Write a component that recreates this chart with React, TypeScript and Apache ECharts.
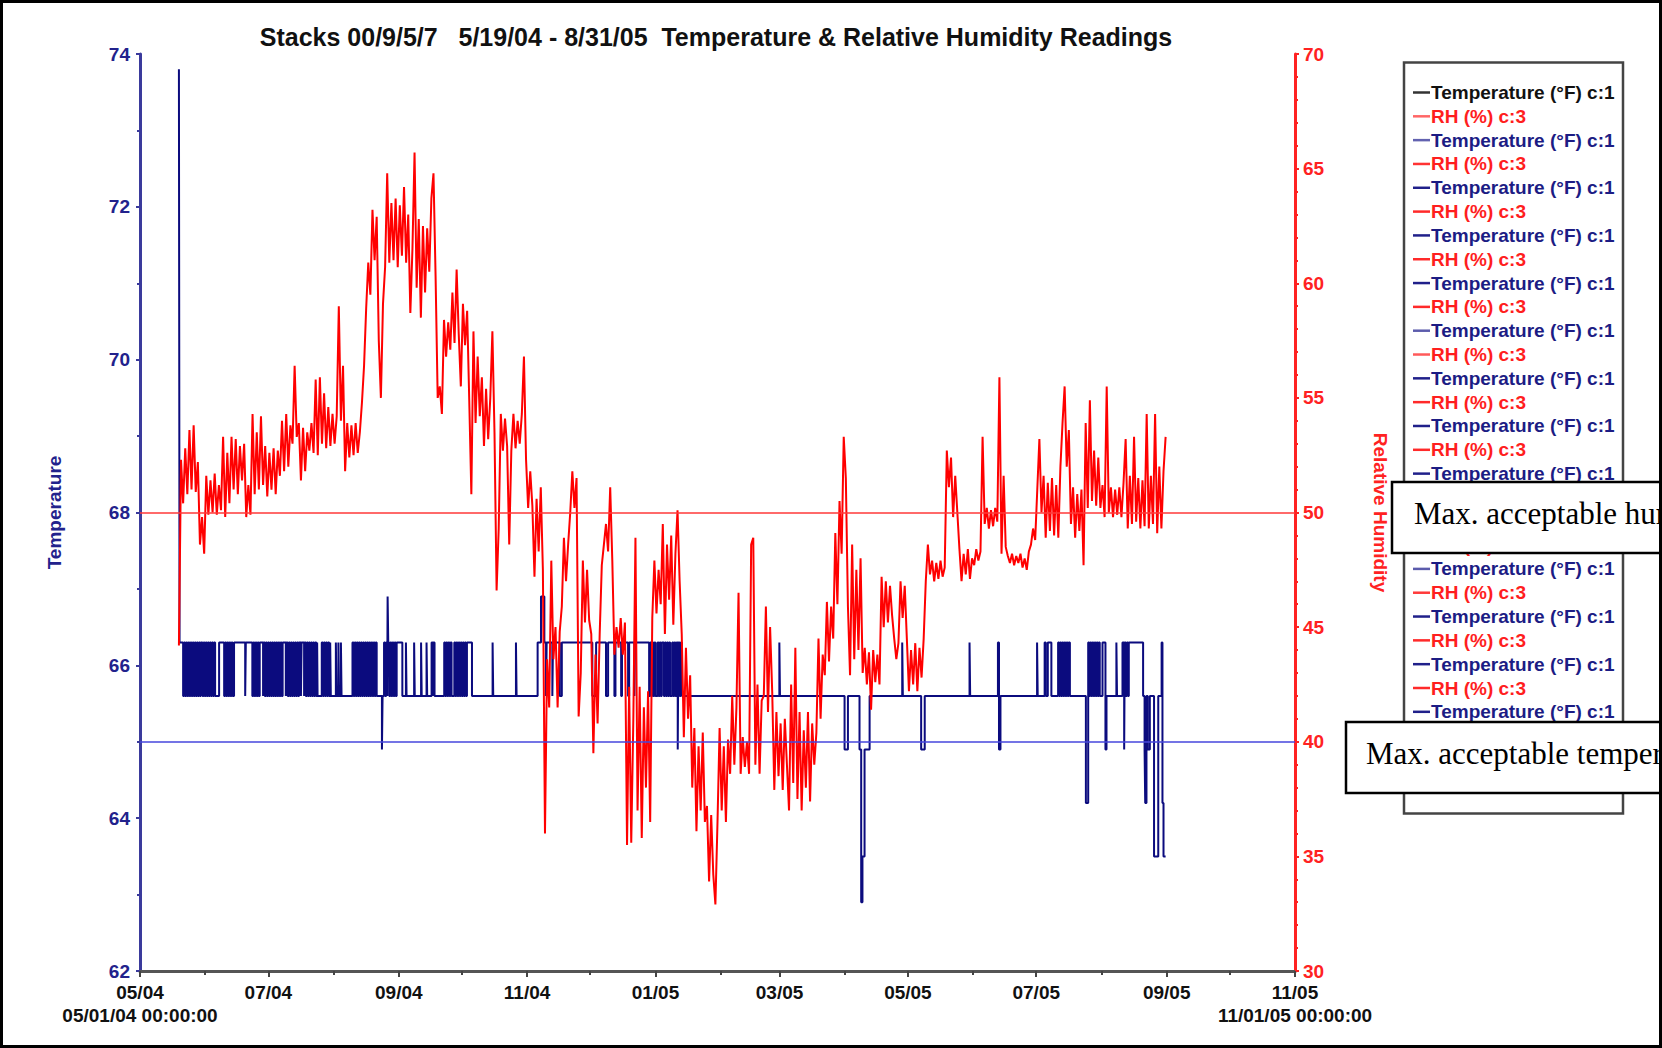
import { useEffect, useRef } from "react";
import * as echarts from "echarts";

// ---------- texts ----------
const chartTitle = "Stacks 00/9/5/7   5/19/04 - 8/31/05  Temperature & Relative Humidity Readings";
const tempAxisName = "Temperature";
const rhAxisName = "Relative Humidity";
const humidityNote = "Max. acceptable humidity";
const temperatureNote = "Max. acceptable temperature";

// ---------- x axis (days since 05/01/04 00:00:00) ----------
const xMinDay = 0;
const xMaxDay = 549;
const labelMonthDays = [0, 61, 123, 184, 245, 304, 365, 426, 488, 549];
const monthLabels = ["05/04", "07/04", "09/04", "11/04", "01/05", "03/05", "05/05", "07/05", "09/05", "11/05"];
const oddMonthDays = [31, 92, 153, 214, 276, 335, 396, 457, 518];
const axisStartStamp = "05/01/04 00:00:00";
const axisEndStamp = "11/01/05 00:00:00";

// ---------- y axes ----------
const tempMin = 62;
const tempMax = 74;
const tempStep = 2;
const rhMin = 30;
const rhMax = 70;
const rhStep = 5;

// ---------- limits ----------
const maxTemp = 65;
const maxRH = 50;

// ---------- legend entries ----------
const legendLabels = [
  "Temperature (°F) c:1", "RH (%) c:3", "Temperature (°F) c:1", "RH (%) c:3", "Temperature (°F) c:1", "RH (%) c:3",
  "Temperature (°F) c:1", "RH (%) c:3", "Temperature (°F) c:1", "RH (%) c:3", "Temperature (°F) c:1", "RH (%) c:3",
  "Temperature (°F) c:1", "RH (%) c:3", "Temperature (°F) c:1", "RH (%) c:3", "Temperature (°F) c:1", "RH (%) c:3",
  "Temperature (°F) c:1", "RH (%) c:3", "Temperature (°F) c:1", "RH (%) c:3", "Temperature (°F) c:1", "RH (%) c:3",
  "Temperature (°F) c:1", "RH (%) c:3", "Temperature (°F) c:1", "RH (%) c:3", "Temperature (°F) c:1", "RH (%) c:3",
];

// ---------- temperature readings [day, °F] (value held until next reading) ----------
const tempReadings: [number, number][] = [
  [18.5, 73.8], [18.8, 66.3],
  [20.5, 65.6], [21, 66.3], [21.5, 65.6], [22, 66.3], [22.5, 65.6], [23, 66.3], [23.5, 65.6], [24, 66.3], [24.5, 65.6],
  [25, 66.3], [25.5, 65.6], [26, 66.3], [26.5, 65.6], [27, 66.3], [27.5, 65.6], [28, 66.3], [28.5, 65.6], [28.9, 66.3],
  [29.7, 65.6], [30.2, 66.3], [30.7, 65.6], [31.2, 66.3], [31.7, 65.6], [32.2, 66.3], [32.7, 65.6], [33.2, 66.3],
  [33.7, 65.6], [34.2, 66.3], [34.7, 65.6], [35.2, 66.3], [35.7, 65.6], [37.6, 66.3],
  [40, 65.6], [40.5, 66.3], [41, 65.6], [41.5, 66.3], [42, 65.6], [42.5, 66.3], [43, 65.6], [43.5, 66.3], [44, 65.6],
  [44.7, 66.3], [50, 65.6], [50.3, 66.3],
  [53.4, 65.6], [53.9, 66.3], [54.4, 65.6], [54.9, 66.3], [55.4, 65.6], [55.9, 66.3], [56.4, 65.6], [56.9, 66.3],
  [58.5, 65.6], [58.8, 66.3],
  [59.3, 65.6], [59.8, 66.3], [60.3, 65.6], [60.8, 66.3], [61.3, 65.6], [61.8, 66.3], [62.3, 65.6], [62.8, 66.3],
  [63.3, 65.6], [63.8, 66.3], [64.3, 65.6], [64.8, 66.3], [65.3, 65.6], [65.8, 66.3], [66.3, 65.6], [66.8, 66.3],
  [67.3, 65.6], [67.8, 66.3], [69.3, 65.6], [69.6, 66.3],
  [70.2, 65.6], [70.7, 66.3], [71.2, 65.6], [71.7, 66.3], [72.2, 65.6], [72.7, 66.3], [73.2, 65.6], [73.7, 66.3],
  [74.2, 65.6], [74.7, 66.3], [75.2, 65.6], [75.6, 66.3], [76.5, 65.6], [76.8, 66.3], [78, 65.6], [78.3, 66.3],
  [78.8, 65.6], [79.3, 66.3], [79.8, 65.6], [80.3, 66.3], [80.8, 65.6], [81.3, 66.3], [81.8, 65.6], [82.3, 66.3],
  [82.8, 65.6], [83.3, 66.3], [83.8, 65.6], [84.2, 66.3], [84.4, 65.6],
  [86.4, 66.3], [86.9, 65.6], [87.4, 66.3], [87.9, 65.6], [88.4, 66.3], [88.9, 65.6], [89.4, 66.3], [89.9, 65.6],
  [90.4, 66.3], [90.7, 65.6], [93.1, 66.3], [93.4, 65.6], [94.3, 66.3], [94.6, 65.6], [95.5, 66.3], [95.8, 65.6],
  [101, 66.3], [101.5, 65.6], [102, 66.3], [102.5, 65.6], [103, 66.3], [103.5, 65.6], [104, 66.3], [104.5, 65.6],
  [105, 66.3], [105.5, 65.6], [106, 66.3], [106.5, 65.6], [107, 66.3], [107.5, 65.6], [108, 66.3], [108.5, 65.6],
  [109, 66.3], [109.5, 65.6], [110, 66.3], [110.5, 65.6], [111, 66.3], [111.5, 65.6], [112, 66.3], [112.5, 65.6],
  [115, 64.9], [115.3, 65.6],
  [116, 66.3], [116.5, 65.6], [117, 66.3], [117.5, 65.6], [117.7, 66.9], [118, 66.3], [118.5, 65.6], [119, 66.3],
  [119.5, 65.6], [120, 66.3], [120.5, 65.6], [121, 66.3], [121.5, 65.6], [122, 66.3],
  [124.7, 65.6], [126.4, 66.3], [126.7, 65.6], [130.3, 66.3], [130.6, 65.6], [133.6, 66.3], [133.9, 65.6],
  [136.2, 66.3], [136.5, 65.6], [138.6, 66.3], [139.1, 65.6], [139.4, 66.3], [140, 65.6],
  [144.6, 66.3], [145.1, 65.6], [145.6, 66.3], [146.1, 65.6], [146.6, 66.3], [147.1, 65.6], [147.6, 66.3], [148.1, 65.6],
  [149.4, 66.3], [149.9, 65.6], [150.4, 66.3], [150.9, 65.6], [151.4, 66.3], [151.9, 65.6], [152.4, 66.3],
  [152.9, 65.6], [153.4, 66.3], [153.9, 65.6], [154.4, 66.3], [154.9, 65.6], [155.4, 66.3],
  [157.8, 65.6], [167.6, 66.3], [167.9, 65.6], [178.7, 66.3], [179, 65.6],
  [189, 66.3], [190.6, 66.9], [192.2, 66.3], [193, 65.6], [193.3, 66.3], [196, 65.6], [196.3, 66.3], [199.5, 65.6],
  [200.5, 66.3], [215, 65.6], [216.8, 66.3], [221.5, 65.6], [222.5, 66.3], [225.5, 65.6], [226, 66.3],
  [228.7, 65.6], [229.1, 66.3], [232, 65.6], [232.5, 66.3], [235, 65.6], [235.3, 66.3],
  [242, 65.6], [242.5, 66.3], [243, 65.6], [243.5, 66.3], [244, 65.6], [244.5, 66.3], [245, 65.6], [246, 66.3],
  [246.5, 65.6], [247, 66.3], [247.5, 65.6], [248, 66.3], [249, 65.6], [249.5, 66.3], [250, 65.6], [250.5, 66.3],
  [251, 65.6], [251.5, 66.3], [252, 65.6], [253, 66.3], [253.5, 65.6], [254, 66.3], [254.5, 65.6], [255, 66.3],
  [255.6, 64.9], [255.9, 66.3], [256.5, 65.6], [257, 66.3], [257.6, 65.6],
  [303.9, 66.3], [304.2, 65.6], [334.9, 64.9], [336.5, 65.6], [342, 64.9], [342.8, 62.9], [343.4, 63.5],
  [344.4, 64.9], [346.8, 65.6], [362.3, 66.3], [362.6, 65.6], [371.3, 64.9], [373, 65.6], [394.3, 66.3],
  [394.6, 65.6], [407.8, 66.3], [408.3, 64.9], [409, 65.6],
  [426.4, 66.3], [426.7, 65.6], [430, 66.3], [430.5, 65.6], [431.5, 66.3], [433.2, 65.6],
  [436.4, 66.3], [436.9, 65.6], [437.4, 66.3], [437.9, 65.6], [438.4, 66.3], [438.9, 65.6], [439.4, 66.3],
  [439.9, 65.6], [440.4, 66.3], [440.9, 65.6], [441.4, 66.3], [442, 65.6],
  [449.6, 64.2], [450.7, 66.3], [451.2, 65.6], [451.7, 66.3], [452.2, 65.6], [452.7, 66.3], [453.2, 65.6],
  [453.7, 66.3], [454.2, 65.6], [454.7, 66.3], [455.2, 65.6], [455.7, 66.3], [456.2, 65.6],
  [457.5, 66.3], [458.9, 64.9], [459.4, 65.6], [464.1, 66.3], [464.4, 65.6], [467, 66.3], [467.8, 64.9],
  [468.1, 66.3], [468.6, 65.6], [469.1, 66.3], [469.6, 65.6], [470, 66.3],
  [476.8, 65.6], [477.5, 64.9], [477.8, 64.2], [478.4, 65.6], [479, 64.9], [480, 65.6], [482, 63.5], [484, 65.6],
  [485.6, 66.3], [486, 64.2], [486.5, 63.5], [487.5, 63.5],
];

// ---------- relative humidity, one reading per day starting at day 18.5 ----------
const rhStartDay = 18.5;
const rhStepDays = 1;
const rhValues = [
  44.2, 52.3, 50.4, 52.8, 50.8, 53.6, 51.0, 53.8, 50.9, 52.2,
  48.6, 49.8, 48.2, 51.6, 49.9, 51.4, 50.0, 51.7, 49.9, 51.2,
  50.1, 53.3, 49.8, 52.6, 50.4, 53.3, 51.0, 53.2, 50.8, 52.9,
  51.4, 53.0, 49.8, 51.2, 49.9, 54.3, 50.8, 53.5, 51.0, 54.2,
  51.2, 52.9, 50.7, 52.6, 51.0, 52.8, 50.8, 52.7, 51.6, 54.0,
  51.8, 54.3, 52.0, 53.8, 53.0, 56.4, 53.3, 53.9, 51.4, 53.7,
  51.8, 53.5, 52.7, 53.9, 52.6, 55.8, 52.5, 55.9, 53.0, 55.2,
  52.8, 54.6, 52.9, 54.3, 53.0, 54.2, 59.0, 54.0, 56.4, 51.8,
  53.9, 52.4, 53.8, 52.5, 53.9, 52.6, 53.5, 54.8, 56.4, 58.9,
  60.9, 59.5, 63.2, 61.0, 62.9, 57.5, 55.0, 59.1, 60.7, 64.8,
  60.9, 63.5, 61.0, 63.7, 60.7, 63.4, 61.2, 64.2, 60.9, 63.0,
  58.7, 61.5, 65.7, 59.8, 62.8, 58.5, 62.5, 59.6, 62.4, 60.5,
  63.7, 64.8, 60.3, 55.0, 55.5, 54.3, 58.4, 56.8, 58.3, 57.1,
  59.6, 57.4, 60.6, 57.8, 55.5, 59.1, 57.3, 58.8, 54.9, 50.8,
  57.9, 53.9, 56.8, 54.2, 55.9, 52.9, 55.4, 53.2, 55.0, 57.9,
  53.5, 46.6, 49.3, 54.3, 52.7, 54.1, 52.9, 48.6, 52.7, 54.3,
  52.8, 54.0, 53.0, 54.3, 56.8, 52.3, 50.2, 51.8, 50.3, 47.2,
  50.6, 48.3, 51.1, 47.5, 36.0, 43.6, 41.5, 47.9, 43.6, 45.0,
  41.5, 44.8, 45.9, 48.9, 47.0, 48.6, 50.0, 51.8, 50.2, 51.5,
  41.1, 43.0, 47.9, 45.2, 47.5, 45.3, 44.7, 39.5, 43.8, 40.8,
  44.7, 47.7, 48.6, 49.5, 48.3, 51.1, 47.9, 43.8, 45.0, 44.1,
  45.4, 43.8, 45.2, 35.5, 42.4, 35.6, 41.0, 48.9, 37.0, 42.4,
  35.8, 41.5, 38.0, 42.2, 36.5, 45.4, 47.9, 45.6, 47.5, 46.0,
  49.5, 44.7, 48.6, 46.2, 49.0, 45.1, 48.2, 50.1, 47.0, 44.7,
  40.2, 44.1, 41.0, 42.9, 38.0, 40.6, 36.1, 39.8, 37.0, 40.4,
  36.5, 37.2, 33.9, 36.8, 34.2, 32.9, 36.5, 40.6, 37.0, 39.8,
  36.5, 40.1, 38.6, 42.0, 39.0, 41.5, 46.5, 38.6, 40.2, 38.9,
  40.0, 38.6, 48.6, 48.9, 39.0, 42.5, 38.6, 41.8, 42.0, 45.9,
  41.3, 45.0, 42.2, 37.9, 41.3, 38.5, 40.8, 37.9, 41.0, 39.0,
  37.0, 42.5, 38.2, 44.1, 37.5, 41.3, 37.0, 40.5, 38.0, 41.3,
  37.4, 40.8, 39.0, 40.4, 44.5, 41.0, 43.8, 42.9, 46.1, 43.5,
  45.9, 44.5, 49.1, 46.0, 50.5, 48.2, 53.3, 51.5, 45.9, 42.9,
  48.6, 43.6, 47.5, 44.0, 48.0, 43.0, 44.1, 42.5, 43.9, 41.4,
  44.0, 42.6, 43.8, 42.5, 47.2, 45.0, 47.0, 45.2, 46.8, 45.5,
  44.5, 43.6, 44.3, 47.0, 45.4, 46.8, 44.5, 42.2, 44.0, 42.5,
  44.3, 42.2, 44.1, 42.8, 44.5, 47.0, 48.6, 47.3, 47.9, 47.0,
  47.8, 47.1, 47.9, 47.2, 47.6, 52.7, 51.1, 52.4, 49.8, 51.6,
  50.0, 48.4, 47.0, 48.2, 47.3, 48.4, 47.1, 48.0, 47.7, 48.4,
  47.9, 48.3, 53.3, 49.5, 50.2, 49.3, 50.1, 49.4, 50.2, 49.6,
  55.9, 48.2, 51.6, 48.5, 48.1, 47.8, 48.2, 47.7, 48.1, 47.8,
  48.2, 47.6, 48.0, 47.5, 48.3, 48.6, 49.3, 48.8, 51.0, 53.2,
  50.0, 51.6, 48.9, 51.3, 49.2, 51.5, 49.0, 51.2, 48.9, 52.0,
  53.9, 55.5, 52.0, 53.6, 49.5, 51.1, 48.9, 50.8, 49.2, 51.0,
  47.7, 53.9, 50.2, 54.9, 50.5, 52.7, 50.3, 52.4, 50.2, 51.2,
  49.8, 55.5, 50.0, 51.1, 49.8, 51.0, 49.9, 51.1, 49.8, 51.3,
  53.2, 49.3, 51.6, 49.5, 53.3, 49.6, 51.5, 49.3, 51.4, 49.4,
  54.3, 49.3, 51.6, 49.5, 54.3, 49.1, 52.0, 49.3, 51.8, 53.3,
];

// ---------- styling ----------
const SANS = "'Liberation Sans', Arial, sans-serif";
const SERIF = "'Liberation Serif', 'Times New Roman', serif";
const NAVY_AXIS = "#3a3a9c";
const NAVY_TEXT = "#22228c";
const RED = "#ff2222";
const legendLineColors = [
  "#333333", "#ff6666", "#6262b0", "#ff3333", "#20208a", "#ff2a2a", "#20208a", "#ff2a2a", "#20208a", "#ff2a2a",
  "#5c5cac", "#ff5a5a", "#20208a", "#ff2a2a", "#20208a", "#ff2a2a", "#20208a", "#ff2a2a", "#20208a", "#ff2a2a",
  "#5c5cac", "#ff3a3a", "#20208a", "#ff2a2a", "#20208a", "#ff2a2a", "#20208a", "#ff2a2a", "#20208a", "#ff2a2a",
];

const humBox = { x: 1392, y: 482, width: 300, height: 71 };
const tempBox = { x: 1346, y: 722, width: 340, height: 71 };

function buildOption() {
  const tempData = tempReadings.map(([d, v]) => [d, v]);
  const rhData = rhValues.map((v, i) => [rhStartDay + i * rhStepDays, v]);

  const labelFor = (value: number) => {
    const idx = labelMonthDays.indexOf(Math.round(value));
    if (idx < 0) return "";
    if (idx === 0) return monthLabels[idx] + "\n" + axisStartStamp;
    if (idx === labelMonthDays.length - 1) return monthLabels[idx] + "\n" + axisEndStamp;
    return monthLabels[idx];
  };

  const legendTop = 92.5;
  const legendGap = 23.82;
  const hiddenBehind = (y: number) =>
    [humBox, tempBox].some((b) => y - 9 >= b.y && y + 9 <= b.y + b.height);

  const legendEls: any[] = [
    {
      type: "rect",
      z: 10,
      shape: { x: 1404, y: 62.5, width: 219, height: 751 },
      style: { fill: "#ffffff", stroke: "#444444", lineWidth: 2.5 },
    },
  ];
  legendLabels.forEach((label, i) => {
    const y = legendTop + i * legendGap;
    const isTemp = label.startsWith("Temperature");
    legendEls.push({
      type: "line",
      z: 11,
      shape: { x1: 1413, y1: y, x2: 1430, y2: y },
      style: { stroke: legendLineColors[i], lineWidth: 2.5 },
    });
    if (hiddenBehind(y)) return; // fully covered by a note box in the reference
    legendEls.push({
      type: "text",
      z: 11,
      x: 1431,
      y: y,
      style: {
        text: label,
        fill: i === 0 ? "#111111" : isTemp ? "#1c1c84" : "#ff1e1e",
        fontFamily: SANS,
        fontWeight: "bold",
        fontSize: 19,
        verticalAlign: "middle",
        align: "left",
      },
    });
  });

  const noteEls: any[] = [
    {
      type: "rect",
      z: 20,
      shape: humBox,
      style: { fill: "#ffffff", stroke: "#000000", lineWidth: 2.5 },
    },
    {
      type: "text",
      z: 21,
      x: 1414,
      y: 513,
      style: { text: humidityNote, fill: "#000", fontFamily: SERIF, fontSize: 31, verticalAlign: "middle", align: "left" },
    },
    {
      type: "rect",
      z: 20,
      shape: tempBox,
      style: { fill: "#ffffff", stroke: "#000000", lineWidth: 2.5 },
    },
    {
      type: "text",
      z: 21,
      x: 1366,
      y: 753,
      style: { text: temperatureNote, fill: "#000", fontFamily: SERIF, fontSize: 31, verticalAlign: "middle", align: "left" },
    },
    {
      type: "rect",
      z: 30,
      shape: { x: 1.5, y: 1.5, width: 1659, height: 1045 },
      style: { fill: "none", stroke: "#000000", lineWidth: 3 },
    },
  ];

  return {
    animation: false,
    backgroundColor: "#ffffff",
    title: {
      text: chartTitle,
      left: 716,
      top: 24,
      padding: 0,
      textAlign: "center",
      textStyle: { fontFamily: SANS, fontWeight: "bold", fontSize: 25, color: "#111111" },
    },
    grid: { left: 140, right: 367, top: 54, bottom: 77, containLabel: false },
    xAxis: [
      {
        type: "value",
        min: xMinDay,
        max: xMaxDay,
        position: "bottom",
        axisLine: { show: true, onZero: false, lineStyle: { color: "#555555", width: 3 } },
        axisTick: { show: true, customValues: labelMonthDays, length: 6, lineStyle: { color: "#444444", width: 2 } },
        axisLabel: {
          customValues: labelMonthDays,
          formatter: labelFor,
          fontFamily: SANS,
          fontWeight: "bold",
          fontSize: 19,
          lineHeight: 23,
          color: "#111111",
          margin: 10,
        },
        splitLine: { show: false },
      },
      {
        type: "value",
        min: xMinDay,
        max: xMaxDay,
        position: "top",
        offset: -917,
        axisLine: { show: false },
        axisTick: { show: true, inside: true, customValues: oddMonthDays, length: 4, lineStyle: { color: "#444444", width: 2 } },
        axisLabel: { show: false },
        splitLine: { show: false },
      },
    ],
    yAxis: [
      {
        type: "value",
        min: tempMin,
        max: tempMax,
        interval: tempStep,
        position: "left",
        name: tempAxisName,
        nameLocation: "middle",
        nameGap: 76,
        nameRotate: 90,
        nameTextStyle: { color: NAVY_TEXT, fontFamily: SANS, fontWeight: "bold", fontSize: 19 },
        axisLine: { show: true, onZero: false, lineStyle: { color: NAVY_AXIS, width: 3 } },
        axisTick: { show: true, length: 4, lineStyle: { color: NAVY_AXIS, width: 2 } },
        minorTick: { show: true, splitNumber: 2, length: 3, lineStyle: { color: NAVY_AXIS, width: 2 } },
        axisLabel: { color: NAVY_TEXT, fontFamily: SANS, fontWeight: "bold", fontSize: 19, margin: 10 },
        splitLine: { show: false },
      },
      {
        type: "value",
        min: rhMin,
        max: rhMax,
        interval: rhStep,
        position: "right",
        name: rhAxisName,
        nameLocation: "middle",
        nameGap: 76,
        nameRotate: -90,
        nameTextStyle: { color: RED, fontFamily: SANS, fontWeight: "bold", fontSize: 19 },
        axisLine: { show: true, onZero: false, lineStyle: { color: RED, width: 3 } },
        axisTick: { show: true, length: 4, lineStyle: { color: RED, width: 2 } },
        minorTick: { show: true, splitNumber: 5, length: 3, lineStyle: { color: RED, width: 2 } },
        axisLabel: { color: RED, fontFamily: SANS, fontWeight: "bold", fontSize: 19, margin: 8 },
        splitLine: { show: false },
      },
    ],
    series: [
      {
        name: "Temperature (°F) c:1",
        type: "line",
        xAxisIndex: 0,
        yAxisIndex: 0,
        data: tempData,
        step: "end",
        showSymbol: false,
        symbol: "none",
        lineStyle: { color: "#0b0b7e", width: 2 },
        z: 2,
      },
      {
        name: "RH (%) c:3",
        type: "line",
        xAxisIndex: 0,
        yAxisIndex: 1,
        data: rhData,
        showSymbol: false,
        symbol: "none",
        lineStyle: { color: "#ff0000", width: 2 },
        z: 3,
      },
      {
        name: "temperature limit",
        type: "line",
        xAxisIndex: 0,
        yAxisIndex: 0,
        data: [],
        z: 4,
        markLine: {
          silent: true,
          symbol: ["none", "none"],
          label: { show: false },
          lineStyle: { color: "#4646dc", width: 1.6, type: "solid" },
          data: [{ yAxis: maxTemp }],
        },
      },
      {
        name: "humidity limit",
        type: "line",
        xAxisIndex: 0,
        yAxisIndex: 1,
        data: [],
        z: 4,
        markLine: {
          silent: true,
          symbol: ["none", "none"],
          label: { show: false },
          lineStyle: { color: "#ff3838", width: 1.6, type: "solid" },
          data: [{ yAxis: maxRH }],
        },
      },
    ],
    graphic: [...legendEls, ...noteEls],
  };
}

export default function App() {
  const ref = useRef<HTMLDivElement>(null);
  useEffect(() => {
    if (!ref.current) return;
    const chart = echarts.init(ref.current, undefined, { renderer: "svg" });
    chart.setOption(buildOption() as any);
    return () => chart.dispose();
  }, []);
  return (
    <div
      ref={ref}
      style={{ position: "fixed", left: 0, top: 0, width: 1662, height: 1048, background: "#ffffff", overflow: "hidden" }}
    />
  );
}
